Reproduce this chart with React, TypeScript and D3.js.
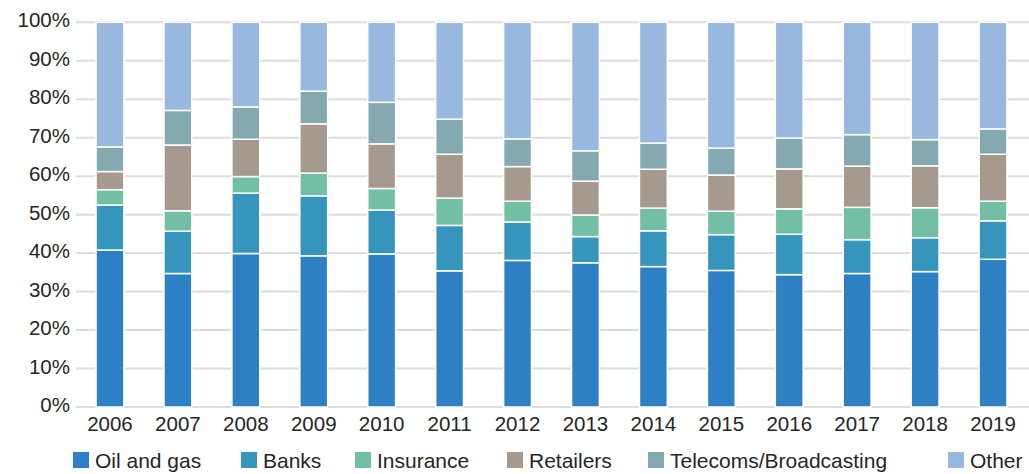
import { useEffect, useRef } from "react";
import * as d3 from "d3";

// Years on the x axis
const years = [
  "2006", "2007", "2008", "2009", "2010", "2011", "2012",
  "2013", "2014", "2015", "2016", "2017", "2018", "2019",
];

// Series names (bottom to top)
const sectors = [
  "Oil and gas",
  "Banks",
  "Insurance",
  "Retailers",
  "Telecoms/Broadcasting",
  "Other",
];

// Shares in % per year
const oilGas = [40.8, 34.7, 39.9, 39.3, 39.8, 35.4, 38.1, 37.5, 36.5, 35.5, 34.4, 34.7, 35.2, 38.4];
const banks = [11.7, 11.0, 15.7, 15.6, 11.4, 11.8, 10.0, 6.8, 9.3, 9.3, 10.5, 8.8, 8.8, 10.0];
const insurance = [4.0, 5.3, 4.3, 5.9, 5.6, 7.1, 5.4, 5.6, 5.9, 6.1, 6.6, 8.4, 7.8, 5.1];
const retailers = [4.7, 17.1, 9.7, 12.8, 11.6, 11.4, 9.0, 8.8, 10.1, 9.4, 10.4, 10.7, 10.9, 12.2];
const telecoms = [6.4, 9.0, 8.4, 8.5, 10.8, 9.1, 7.2, 7.9, 6.8, 7.0, 8.0, 8.2, 6.8, 6.6];
const other = [32.4, 22.9, 22.0, 17.9, 20.8, 25.2, 30.3, 33.4, 31.4, 32.7, 30.1, 29.2, 30.5, 27.7];

const seriesValues = [oilGas, banks, insurance, retailers, telecoms, other];

const colors = ["#2e80c4", "#3595bc", "#73bfa6", "#a69a8f", "#85a9b1", "#98b8df"];

const yTicks = [0, 10, 20, 30, 40, 50, 60, 70, 80, 90, 100];

export default function App() {
  const ref = useRef<SVGSVGElement>(null);

  useEffect(() => {
    if (!ref.current) return;
    const svg = d3.select(ref.current);
    svg.selectAll("*").remove();

    const font = "'Liberation Sans', Arial, Helvetica, sans-serif";
    const textColor = "#262626";

    const x = d3
      .scaleBand()
      .domain(years)
      .range([76, 1027])
      .paddingInner(0.59)
      .paddingOuter(0.295);
    const y = d3.scaleLinear().domain([0, 100]).range([407, 22.3]);

    // table for the stack
    const table = years.map((yr, i) => {
      const row: any = { year: yr };
      sectors.forEach((s, j) => (row[s] = seriesValues[j][i]));
      return row;
    });
    const stacked = d3.stack<any>().keys(sectors)(table);

    // gridlines
    svg
      .append("g")
      .selectAll("line")
      .data(yTicks)
      .enter()
      .append("line")
      .attr("x1", 76)
      .attr("x2", 1029)
      .attr("y1", (d) => y(d))
      .attr("y2", (d) => y(d))
      .attr("stroke", "#dcdcdc")
      .attr("stroke-width", 2);

    // y labels
    svg
      .append("g")
      .selectAll("text")
      .data(yTicks)
      .enter()
      .append("text")
      .attr("x", 70)
      .attr("y", (d) => y(d) + 5)
      .attr("text-anchor", "end")
      .style("font-family", font)
      .style("font-size", "20.5px")
      .style("fill", textColor)
      .text((d) => `${d}%`);

    // bars
    svg
      .append("g")
      .selectAll("g")
      .data(stacked)
      .enter()
      .append("g")
      .attr("fill", (_d, i) => colors[i])
      .selectAll("rect")
      .data((d) => d)
      .enter()
      .append("rect")
      .attr("x", (d) => x(d.data.year)!)
      .attr("width", x.bandwidth())
      .attr("y", (d) => y(d[1]))
      .attr("height", (d) => y(d[0]) - y(d[1]))
      .attr("stroke", "#ffffff")
      .attr("stroke-width", 1.5);

    // x labels
    svg
      .append("g")
      .selectAll("text")
      .data(years)
      .enter()
      .append("text")
      .attr("x", (d) => x(d)! + x.bandwidth() / 2)
      .attr("y", 431)
      .attr("text-anchor", "middle")
      .style("font-family", font)
      .style("font-size", "20.5px")
      .style("fill", textColor)
      .text((d) => d);

    // legend
    const legendX = [73, 241, 355, 507, 648, 948];
    const lg = svg
      .append("g")
      .selectAll("g")
      .data(sectors)
      .enter()
      .append("g")
      .attr("transform", (_d, i) => `translate(${legendX[i]},452)`);
    lg.append("rect")
      .attr("width", 16)
      .attr("height", 16)
      .attr("fill", (_d, i) => colors[i]);
    lg.append("text")
      .attr("x", 22)
      .attr("y", 15.7)
      .style("font-family", font)
      .style("font-size", "21px")
      .style("fill", textColor)
      .text((d) => d);
  }, []);

  return (
    <svg
      ref={ref}
      width={1029}
      height={474}
      style={{ position: "absolute", left: 0, top: 0, background: "#fff" }}
    />
  );
}
